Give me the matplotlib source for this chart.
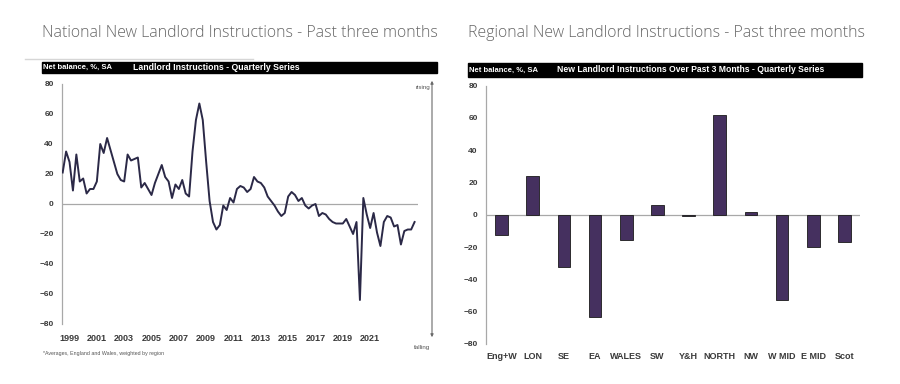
import matplotlib
matplotlib.use("Agg")
import matplotlib.pyplot as plt
import numpy as np
from matplotlib.patches import Rectangle, FancyArrowPatch
from matplotlib.lines import Line2D

# national series, quarterly from 1998 Q3 to 2024 Q2 (net balance, %)
national = [
    21, 35, 28, 9, 33, 15, 17, 7, 10, 10,
    15, 40, 34, 44, 36, 28, 20, 16, 15, 33,
    29, 30, 31, 11, 14, 10, 6, 14, 20, 26,
    18, 15, 4, 13, 10, 16, 7, 5, 35, 56,
    67, 56, 28, 2, -12, -17, -14, -1, -4, 4,
    1, 10, 12, 11, 8, 10, 18, 15, 14, 11,
    5, 2, -1, -5, -8, -6, 5, 8, 6, 2,
    4, -1, -3, -1, 0, -8, -6, -7, -10, -12,
    -13, -13, -13, -10, -15, -20, -12, -64, 4, -7,
    -16, -6, -19, -28, -12, -8, -9, -15, -14, -27,
    -18, -17, -17, -12,
]
start_year = 1998.5
year_ticks = [1999, 2001, 2003, 2005, 2007, 2009, 2011, 2013, 2015, 2017, 2019, 2021]

regions = ["Eng+W", "LON", "SE", "EA", "WALES", "SW", "Y&H", "NORTH", "NW", "W MID", "E MID", "Scot"]
regional = [-12.5, 24, -32.5, -63, -15.5, 6, -1, 62, 2, -53, -20, -17]

yticks = [80, 60, 40, 20, 0, -20, -40, -60, -80]

W, H = 900, 384
fig = plt.figure(figsize=(9, 3.84), dpi=100)
fig.patch.set_facecolor("white")

narrow = ["Liberation Sans Narrow", "Liberation Sans", "DejaVu Sans"]
title_font = ["Open Sans", "DejaVu Sans"]
line_col = "#2b2947"
bar_col = "#45305f"
axis_grey = "#a8a8a8"
label_col = "#3a3a3a"


def fx(px):
    return px / W


def fy(py):
    return 1 - py / H


def style_axes(ax):
    for s in ["top", "right", "bottom"]:
        ax.spines[s].set_visible(False)
    ax.spines["left"].set_color(axis_grey)
    ax.spines["left"].set_linewidth(0.9)
    ax.axhline(0, color=axis_grey, lw=0.9, zorder=1)
    ax.set_ylim(-80, 80)
    ax.set_yticks(yticks)
    ax.tick_params(axis="y", length=0, pad=6, labelsize=6, labelcolor=label_col)
    ax.tick_params(axis="x", length=0, labelsize=6.5, labelcolor=label_col)
    for lab in ax.get_yticklabels() + ax.get_xticklabels():
        lab.set_family(narrow)
        lab.set_fontweight("bold")


# titles
fig.text(fx(42), fy(33), "National New Landlord Instructions - Past three months",
         family=title_font, fontsize=11.4, fontweight="light", color="#666666",
         va="center", ha="left")
fig.text(fx(468), fy(33), "Regional New Landlord Instructions - Past three months",
         family=title_font, fontsize=11.4, fontweight="light", color="#666666",
         va="center", ha="left")
fig.add_artist(Line2D([fx(25), fx(253)], [fy(59), fy(59)], color="#d6d6d6", lw=1))

# header bars
fig.add_artist(Rectangle((fx(42), fy(73)), fx(437) - fx(42), fy(62) - fy(73),
                         transform=fig.transFigure, color="black"))
fig.text(fx(43), fy(67.5), "Net balance, %, SA", color="white", fontsize=5.5,
         fontweight="bold", family=narrow, va="center")
fig.text(fx(133), fy(67.5), "Landlord Instructions - Quarterly Series", color="white",
         fontsize=6.3, fontweight="bold", family=narrow, va="center")

fig.add_artist(Rectangle((fx(468), fy(77)), fx(862) - fx(468), fy(63) - fy(77),
                         transform=fig.transFigure, color="black"))
fig.text(fx(469), fy(70), "Net balance, %, SA", color="white", fontsize=5.5,
         fontweight="bold", family=narrow, va="center")
fig.text(fx(557), fy(70), "New Landlord Instructions Over Past 3 Months - Quarterly Series",
         color="white", fontsize=6.2, fontweight="bold", family=narrow, va="center")

# national line chart
ax1 = fig.add_axes([fx(62), fy(324), fx(418) - fx(62), fy(84) - fy(324)])
x_years = start_year + np.arange(len(national)) / 4
ax1.plot(x_years, national, color=line_col, lw=1.4, zorder=3)
ax1.set_xlim(1998.45, 2024.5)
ax1.set_xticks(year_ticks)
ax1.set_xticklabels([str(y) for y in year_ticks])
style_axes(ax1)
ax1.tick_params(axis="x", pad=7)

fig.add_artist(FancyArrowPatch((fx(432), fy(340)), (fx(432), fy(78)),
                               transform=fig.transFigure, arrowstyle="<|-|>",
                               mutation_scale=4, color="#6a6a6a", lw=0.8))
fig.text(fx(430), fy(88), "rising", fontsize=4.5, color="#555555", ha="right",
         va="center", family=narrow)
fig.text(fx(430), fy(348), "falling", fontsize=4.5, color="#555555", ha="right",
         va="center", family=narrow)
fig.text(fx(43), fy(353), "*Averages, England and Wales, weighted by region",
         fontsize=3.8, color="#555555", ha="left", va="center", family=narrow)

# regional bar chart
ax2 = fig.add_axes([fx(486), fy(344), fx(860) - fx(486), fy(85.7) - fy(344)])
pos = np.arange(len(regions))
ax2.bar(pos, regional, width=0.41, color=bar_col, edgecolor="#1a1a1a", lw=0.6, zorder=3)
ax2.set_xlim(-0.5, len(regions) - 0.5)
ax2.set_xticks(pos)
ax2.set_xticklabels(regions)
style_axes(ax2)
ax2.tick_params(axis="x", pad=6)

fig.savefig("out.png", dpi=100, facecolor="white")
